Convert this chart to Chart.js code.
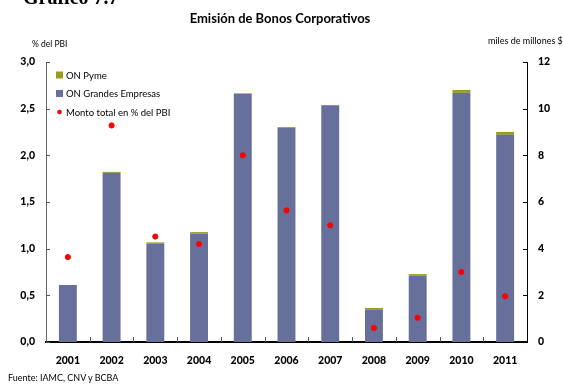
<!DOCTYPE html>
<html><head><meta charset="utf-8">
<script src="https://cdn.jsdelivr.net/npm/chart.js@4/dist/chart.umd.min.js"></script>
<style>
html,body{margin:0;padding:0;background:#fff;}
#wrap{position:relative;width:563px;height:385px;overflow:hidden;font-family:Lato,"DejaVu Sans",sans-serif;}
canvas{position:absolute;left:0;top:0;}
.t{position:absolute;white-space:nowrap;color:#000;}
</style></head><body>
<div id="wrap">
<canvas id="c" width="563" height="385"></canvas>
<div class="t" style="left:23px;top:-14px;font:bold 20px 'Liberation Serif',serif;line-height:22px;">Gráfico 7.7</div>
<div class="t" style="left:0;width:560px;text-align:center;top:10px;font-weight:bold;font-size:13px;">Emisión de Bonos Corporativos</div>
<div class="t" style="left:32px;top:39px;font-size:8.5px;">% del PBI</div>
<div class="t" style="left:488px;top:35px;font-size:9px;">miles de millones $</div>
<div class="t" style="left:8px;top:372px;font-size:9px;">Fuente: IAMC, CNV y BCBA</div>
</div>
<script>
const categories = ['2001','2002','2003','2004','2005','2006','2007','2008','2009','2010','2011'];
const grandesEmpresas = [2.44, 7.25, 4.22, 4.65, 10.64, 9.17, 10.12, 1.40, 2.85, 10.68, 8.88];
const pyme = [0.00, 0.04, 0.05, 0.06, 0.02, 0.04, 0.04, 0.06, 0.06, 0.12, 0.12];
const montoPBI = [0.91, 2.32, 1.13, 1.05, 2.00, 1.41, 1.25, 0.15, 0.26, 0.75, 0.49];
const labels = ['ON Pyme', 'ON Grandes Empresas', 'Monto total en % del PBI'];

const BLUE = '#67709b', OLIVE = '#9c9c1c', RED = '#ff0000';

const inwardTicks = {
  id: 'inwardTicks',
  afterDraw(chart) {
    const ctx = chart.ctx, a = chart.chartArea;
    ctx.save();
    ctx.lineWidth = 1;
    const x = chart.scales.x, y = chart.scales.y, y1 = chart.scales.y1;
    ctx.strokeStyle = '#555';
    for (let i = 1; i < categories.length; i++) {
      const px = Math.round((x.getPixelForTick(i - 1) + x.getPixelForTick(i)) / 2) + 0.5;
      ctx.beginPath(); ctx.moveTo(px, a.bottom); ctx.lineTo(px, a.bottom - 5); ctx.stroke();
    }
    y.ticks.forEach((t, i) => {
      const py = Math.round(y.getPixelForTick(i)) + 0.5;
      ctx.beginPath(); ctx.moveTo(a.left, py); ctx.lineTo(a.left + 4, py); ctx.stroke();
    });
    ctx.strokeStyle = '#000';
    y1.ticks.forEach((t, i) => {
      const py = Math.round(y1.getPixelForTick(i)) + 0.5;
      ctx.beginPath(); ctx.moveTo(a.right, py); ctx.lineTo(a.right - 4, py); ctx.stroke();
    });
    // legend
    const items = [
      {label: labels[0], color: OLIVE, type: 'box'},
      {label: labels[1], color: BLUE, type: 'box'},
      {label: labels[2], color: RED, type: 'pt'}
    ];
    ctx.font = '9.5px Lato, sans-serif';
    ctx.textBaseline = 'middle';
    ctx.fillStyle = '#000';
    items.forEach((it, i) => {
      const cy = a.top + 13 + i * 18.5;
      const lx = a.left + 10;
      if (it.type === 'box') {
        ctx.fillStyle = it.color; ctx.fillRect(lx, cy - 3.5, 7, 7);
      } else {
        ctx.fillStyle = it.color;
        ctx.beginPath(); ctx.arc(lx + 3.5, cy, 2.3, 0, Math.PI * 2); ctx.fill();
      }
      ctx.fillStyle = '#000';
      ctx.fillText(it.label, lx + 10, cy + 0.5);
    });
    ctx.restore();
  }
};

new Chart(document.getElementById('c'), {
  data: {
    labels: categories,
    datasets: [
      {type: 'line', label: labels[2], data: montoPBI, yAxisID: 'y', showLine: false,
       pointStyle: 'circle', pointRadius: 2.6, pointBackgroundColor: RED, pointBorderColor: RED, pointBorderWidth: 1, order: 0},
      {type: 'bar', label: labels[1], data: grandesEmpresas, yAxisID: 'y1', backgroundColor: BLUE, stack: 's', order: 1,
       barPercentage: 0.41, categoryPercentage: 1},
      {type: 'bar', label: labels[0], data: pyme, yAxisID: 'y1', backgroundColor: OLIVE, stack: 's', order: 2,
       barPercentage: 0.41, categoryPercentage: 1}
    ]
  },
  options: {
    responsive: false, animation: false, devicePixelRatio: 1,
    layout: {padding: {top: 62, left: 0, right: 0, bottom: 0}},
    plugins: {legend: {display: false}, tooltip: {enabled: false}, title: {display: false}},
    scales: {
      x: {
        stacked: true, offset: true,
        grid: {display: false, drawTicks: false},
        border: {display: true, color: '#000', width: 2},
        ticks: {color: '#000', font: {family: 'Lato', weight: '900', size: 10.5}, padding: 12},
        afterFit(s) { s.height = 43; }
      },
      y: {
        position: 'left', min: 0, max: 3,
        grid: {display: false, drawTicks: false},
        border: {display: true, color: '#666', width: 1},
        ticks: {stepSize: 0.5, color: '#000', font: {family: 'Lato', weight: '900', size: 10.5}, padding: 11,
          callback: v => v.toFixed(1).replace('.', ',')},
        afterFit(s) { s.width = 46; }
      },
      y1: {
        position: 'right', min: 0, max: 12, stacked: true,
        grid: {display: false, drawTicks: false},
        border: {display: true, color: '#000', width: 1},
        ticks: {stepSize: 2, color: '#000', font: {family: 'Lato', weight: '900', size: 10.5}, padding: 11},
        afterFit(s) { s.width = 36; }
      }
    }
  },
  plugins: [inwardTicks]
});
</script>
</body></html>
